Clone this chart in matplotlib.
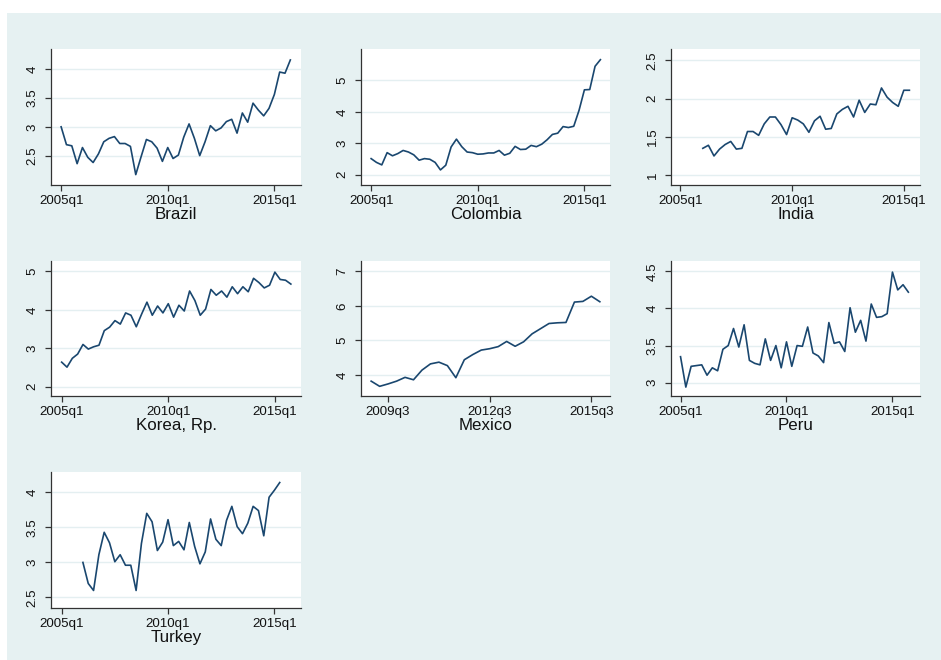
import matplotlib

matplotlib.use("Agg")
import matplotlib.pyplot as plt

plt.rcParams["font.family"] = ["Liberation Sans", "DejaVu Sans"]

BG = "#e6f1f2"
LINE = "#1a476f"
GRID = "#e4eff1"
AXIS = "#333333"

# quarter index 0 = 2005q1
brazil_start = 0
brazil = [3.00, 2.69, 2.67, 2.36, 2.64, 2.47, 2.38, 2.53, 2.74, 2.80, 2.83, 2.71,
          2.71, 2.66, 2.17, 2.48, 2.78, 2.74, 2.63, 2.40, 2.64, 2.45, 2.51, 2.82,
          3.05, 2.80, 2.50, 2.74, 3.02, 2.93, 2.98, 3.09, 3.13, 2.89, 3.24, 3.08,
          3.41, 3.29, 3.19, 3.32, 3.56, 3.95, 3.93, 4.16]

colombia_start = 0
colombia = [2.51, 2.39, 2.31, 2.70, 2.60, 2.67, 2.77, 2.72, 2.63, 2.46, 2.51, 2.49,
            2.39, 2.15, 2.30, 2.88, 3.13, 2.89, 2.72, 2.70, 2.65, 2.66, 2.69, 2.69,
            2.77, 2.62, 2.68, 2.90, 2.80, 2.81, 2.93, 2.89, 2.97, 3.11, 3.28, 3.32,
            3.53, 3.50, 3.54, 4.05, 4.70, 4.71, 5.45, 5.66]

india_start = 4
india = [1.35, 1.39, 1.25, 1.34, 1.40, 1.44, 1.34, 1.35, 1.57, 1.57, 1.52, 1.67,
         1.76, 1.76, 1.66, 1.53, 1.75, 1.72, 1.67, 1.56, 1.71, 1.77, 1.60, 1.61,
         1.80, 1.86, 1.90, 1.76, 1.98, 1.82, 1.93, 1.92, 2.14, 2.02, 1.95, 1.90,
         2.11, 2.11]

korea_start = 0
korea = [2.64, 2.51, 2.74, 2.85, 3.10, 2.98, 3.04, 3.08, 3.46, 3.55, 3.72, 3.63,
         3.92, 3.86, 3.56, 3.89, 4.20, 3.86, 4.10, 3.92, 4.16, 3.81, 4.12, 3.97,
         4.49, 4.24, 3.86, 4.02, 4.53, 4.38, 4.49, 4.33, 4.60, 4.42, 4.60, 4.47,
         4.82, 4.71, 4.57, 4.64, 4.98, 4.79, 4.77, 4.67]

mexico_start = 16
mexico = [3.82, 3.67, 3.74, 3.82, 3.93, 3.86, 4.14, 4.32, 4.37, 4.27, 3.92, 4.44,
          4.59, 4.72, 4.76, 4.82, 4.97, 4.83, 4.96, 5.19, 5.34, 5.49, 5.51, 5.52,
          6.11, 6.13, 6.28, 6.12]

peru_start = 0
peru = [3.35, 2.94, 3.22, 3.23, 3.24, 3.10, 3.20, 3.16, 3.45, 3.50, 3.73, 3.48,
        3.78, 3.30, 3.26, 3.24, 3.59, 3.30, 3.50, 3.20, 3.55, 3.22, 3.50, 3.49,
        3.75, 3.40, 3.36, 3.27, 3.81, 3.53, 3.55, 3.42, 4.01, 3.68, 3.84, 3.56,
        4.06, 3.88, 3.89, 3.93, 4.49, 4.25, 4.32, 4.22]

turkey_start = 4
turkey = [3.00, 2.70, 2.60, 3.11, 3.43, 3.28, 3.01, 3.11, 2.96, 2.96, 2.60, 3.27,
          3.70, 3.58, 3.17, 3.29, 3.61, 3.24, 3.30, 3.18, 3.57, 3.23, 2.98, 3.15,
          3.62, 3.33, 3.24, 3.60, 3.80, 3.51, 3.41, 3.56, 3.80, 3.74, 3.38, 3.93,
          4.03, 4.14]

default_xticks = [0, 20, 40]
default_xlabels = ["2005q1", "2010q1", "2015q1"]
mexico_xticks = [18, 30, 42]
mexico_xlabels = ["2009q3", "2012q3", "2015q3"]

panels = [
    ("Brazil", brazil_start, brazil, [2.5, 3, 3.5, 4], ["2.5", "3", "3.5", "4"],
     (1.99, 4.35), (-1.9, 45.0), (51, 49, 301, 185)),
    ("Colombia", colombia_start, colombia, [2, 3, 4, 5], ["2", "3", "4", "5"],
     (1.67, 6.0), (-1.9, 44.8), (361, 49, 610, 185)),
    ("India", india_start, india, [1, 1.5, 2, 2.5], ["1", "1.5", "2", "2.5"],
     (0.87, 2.65), (-1.7, 42.9), (671, 49, 920, 185)),
    ("Korea, Rp.", korea_start, korea, [2, 3, 4, 5], ["2", "3", "4", "5"],
     (1.76, 5.27), (-2.0, 44.9), (51, 261, 301, 396)),
    ("Mexico", mexico_start, mexico, [4, 5, 6, 7], ["4", "5", "6", "7"],
     (3.39, 7.30), (14.8, 44.2), (361, 261, 610, 396)),
    ("Peru", peru_start, peru, [3, 3.5, 4, 4.5], ["3", "3.5", "4", "4.5"],
     (2.82, 4.64), (-1.8, 45.2), (671, 261, 920, 396)),
    ("Turkey", turkey_start, turkey, [2.5, 3, 3.5, 4], ["2.5", "3", "3.5", "4"],
     (2.35, 4.29), (-2.0, 45.0), (51, 472, 301, 608)),
]

W, H = 941, 660
fig = plt.figure(figsize=(W / 100, H / 100), dpi=100)
fig.patch.set_facecolor("white")
# light background panel, leaving a white strip at top and left
fig.patches.append(plt.Rectangle((7 / W, 0), 1, 1 - 13 / H, transform=fig.transFigure,
                                 facecolor=BG, edgecolor="none", zorder=-1))

for name, start, values, yticks, ylabels, ylim, xlim, box in panels:
    x0, y0, x1, y1 = box
    ax = fig.add_axes([x0 / W, 1 - y1 / H, (x1 - x0) / W, (y1 - y0) / H])
    ax.set_facecolor("white")
    xs = list(range(start, start + len(values)))
    ax.plot(xs, values, color=LINE, lw=1.2, zorder=3)
    ax.set_xlim(*xlim)
    ax.set_ylim(*ylim)
    for yt in yticks:
        ax.axhline(yt, color=GRID, lw=1.0, zorder=1)
    if name == "Mexico":
        ax.set_xticks(mexico_xticks, mexico_xlabels)
    else:
        ax.set_xticks(default_xticks, default_xlabels)
    ax.set_yticks(yticks, ylabels)
    for lab in ax.get_yticklabels():
        lab.set_rotation(90)
        lab.set_va("center")
    ax.tick_params(axis="both", labelsize=9.6, length=4, width=0.9, color=AXIS,
                   labelcolor="#111111")
    ax.tick_params(axis="x", pad=3)
    ax.tick_params(axis="y", pad=5)
    for side in ("top", "right"):
        ax.spines[side].set_visible(False)
    for side in ("left", "bottom"):
        ax.spines[side].set_color(AXIS)
        ax.spines[side].set_linewidth(0.9)
    ax.set_xlabel(name, fontsize=12.2, labelpad=0.5, color="#111111")

fig.savefig("out.png", dpi=100)
